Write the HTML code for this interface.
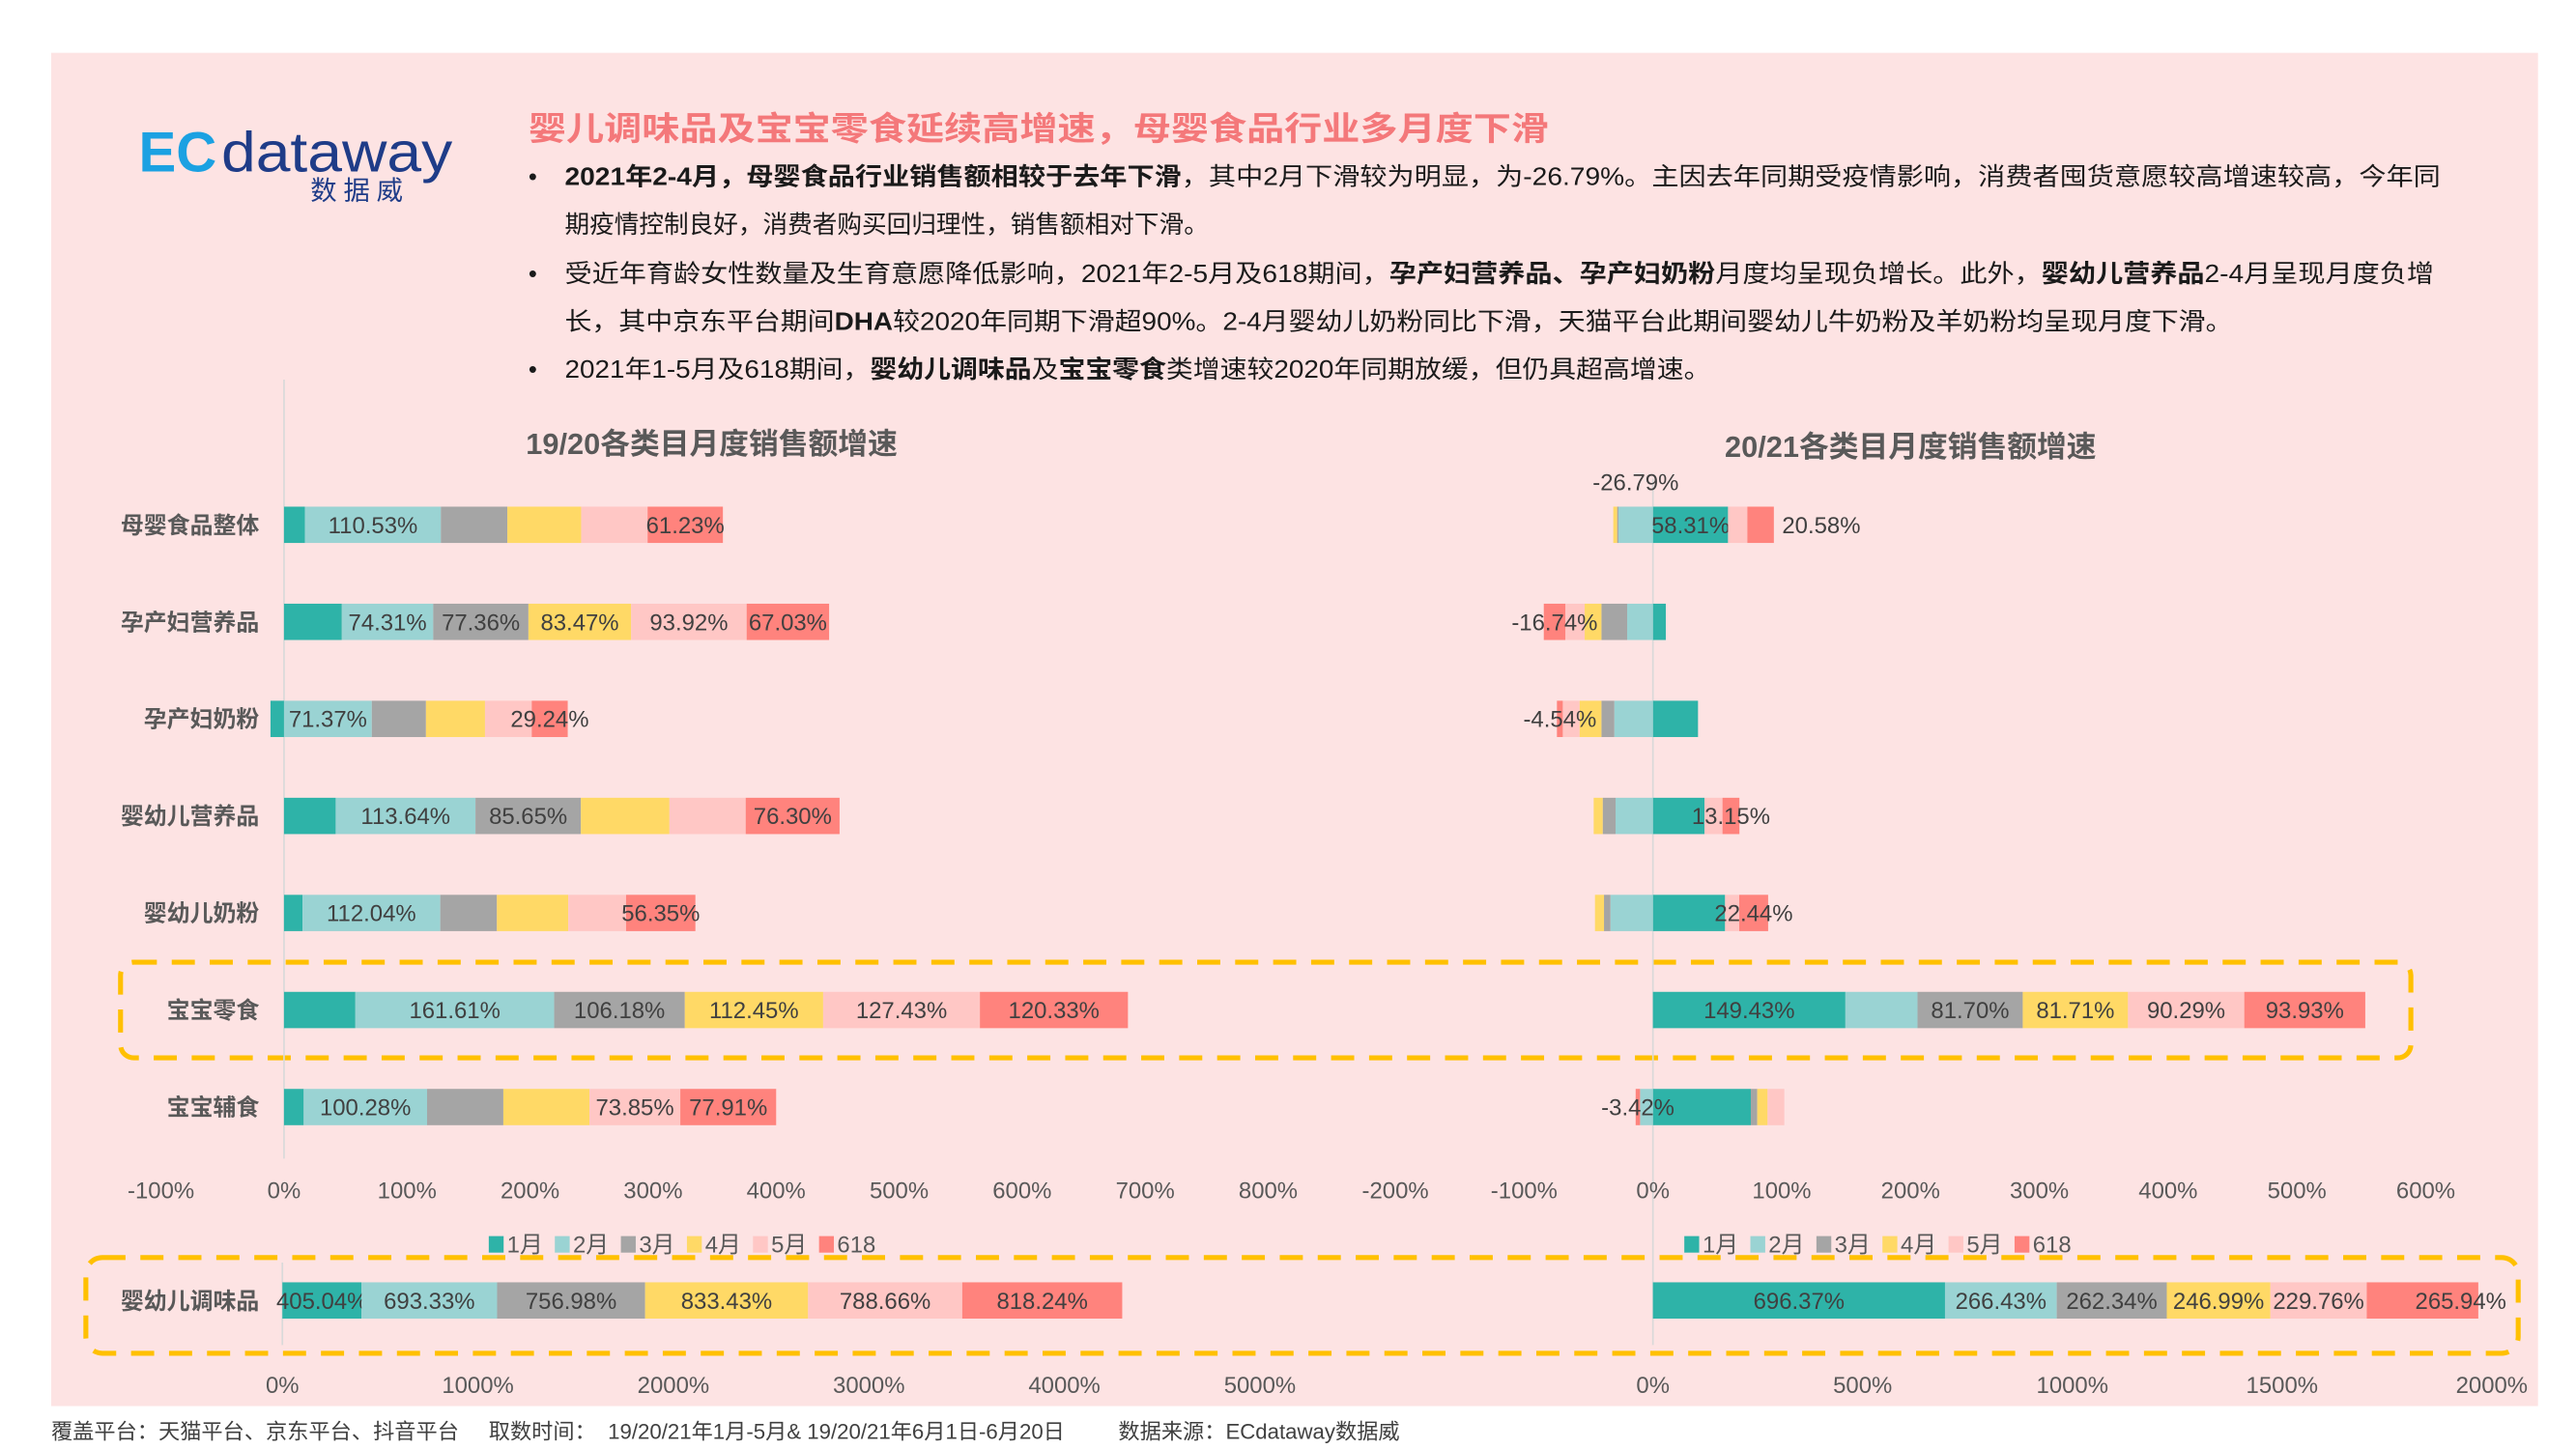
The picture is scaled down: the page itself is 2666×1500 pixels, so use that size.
<!DOCTYPE html>
<html><head><meta charset="utf-8">
<style>
html,body{margin:0;padding:0;background:#fff;}
svg{display:block;}
text{font-family:"Liberation Sans","Noto Sans CJK SC",sans-serif;}
</style></head>
<body>
<svg id="s" width="2666" height="1500" viewBox="0 0 1560 878" preserveAspectRatio="none" xmlns="http://www.w3.org/2000/svg">
<rect x="31" y="32" width="1506" height="820" fill="#fde3e3"/>
<g>
<text x="84" y="104" font-size="34" font-weight="bold" fill="#1ba1e2">EC</text>
<text x="134" y="104" font-size="34" fill="#1f3c88" textLength="140" lengthAdjust="spacingAndGlyphs">dataway</text>
<text x="188" y="121" font-size="16" fill="#1f3c88" letter-spacing="4">数据威</text>
</g>
<text x="320" y="85" font-size="20" font-weight="bold" fill="#f4787a" textLength="618" lengthAdjust="spacingAndGlyphs">婴儿调味品及宝宝零食延续高增速，母婴食品行业多月度下滑</text>
<g font-size="15" fill="#1a1a1a">
<text x="320" y="112">•</text><text x="320" y="171">•</text><text x="320" y="229">•</text>
<text x="342" y="112" textLength="1136" lengthAdjust="spacingAndGlyphs"><tspan font-weight="bold">2021年2-4月，母婴食品行业销售额相较于去年下滑</tspan>，其中2月下滑较为明显，为-26.79%。主因去年同期受疫情影响，消费者囤货意愿较高增速较高，今年同</text>
<text x="342" y="141">期疫情控制良好，消费者购买回归理性，销售额相对下滑。</text>
<text x="342" y="171" textLength="1132" lengthAdjust="spacingAndGlyphs">受近年育龄女性数量及生育意愿降低影响，2021年2-5月及618期间，<tspan font-weight="bold">孕产妇营养品、孕产妇奶粉</tspan>月度均呈现负增长。此外，<tspan font-weight="bold">婴幼儿营养品</tspan>2-4月呈现月度负增</text>
<text x="342" y="200" textLength="1010" lengthAdjust="spacingAndGlyphs">长，其中京东平台期间<tspan font-weight="bold">DHA</tspan>较2020年同期下滑超90%。2-4月婴幼儿奶粉同比下滑，天猫平台此期间婴幼儿牛奶粉及羊奶粉均呈现月度下滑。</text>
<text x="342" y="229" textLength="694" lengthAdjust="spacingAndGlyphs">2021年1-5月及618期间，<tspan font-weight="bold">婴幼儿调味品</tspan>及<tspan font-weight="bold">宝宝零食</tspan>类增速较2020年同期放缓，但仍具超高增速。</text>
</g>
<text x="431" y="275" font-size="18" font-weight="bold" fill="#595959" text-anchor="middle">19/20各类目月度销售额增速</text>
<text x="1157" y="277" font-size="18" font-weight="bold" fill="#595959" text-anchor="middle">20/21各类目月度销售额增速</text>
<rect x="73" y="583" width="1387" height="58" rx="8" fill="none" stroke="#ffc000" stroke-width="3" stroke-dasharray="14 9"/>
<rect x="52" y="762" width="1473" height="58" rx="10" fill="none" stroke="#ffc000" stroke-width="3" stroke-dasharray="14 9"/>
<g id="charts"></g>
<text x="31" y="872" font-size="13" fill="#404040" xml:space="preserve">覆盖平台：天猫平台、京东平台、抖音平台     取数时间：  19/20/21年1月-5月&amp; 19/20/21年6月1日-6月20日         数据来源：ECdataway数据威</text>
</svg>
<script>
const categories = ['母婴食品整体','孕产妇营养品','孕产妇奶粉','婴幼儿营养品','婴幼儿奶粉','宝宝零食','宝宝辅食'];
const seriesNames = ['1月','2月','3月','4月','5月','618'];
const seriesColors = ['#2eb3a8','#9ad3d3','#a5a5a5','#ffd966','#ffc7c5','#ff837d'];
const left1920 = [
 [17,110.53,54,60,54,61.23],
 [47,74.31,77.36,83.47,93.92,67.03],
 [-11,71.37,44,48,38,29.24],
 [42,113.64,85.65,72,62,76.30],
 [15,112.04,46,58,47,56.35],
 [58,161.61,106.18,112.45,127.43,120.33],
 [16,100.28,62,70,73.85,77.91]
];
const left1920Labels = [
 [null,'110.53%',null,null,null,'61.23%'],
 [null,'74.31%','77.36%','83.47%','93.92%','67.03%'],
 [null,'71.37%',null,null,null,'29.24%'],
 [null,'113.64%','85.65%',null,null,'76.30%'],
 [null,'112.04%',null,null,null,'56.35%'],
 [null,'161.61%','106.18%','112.45%','127.43%','120.33%'],
 [null,'100.28%',null,null,'73.85%','77.91%']
];
const right2021 = [
 [58.31,-26.79,-1,-3,15,20.58],
 [10,-20,-20,-13,-15,-16.74],
 [35,-30,-10,-17,-13,-4.54],
 [40,-29,-10,-7,14,13.15],
 [56,-33,-5,-7,11,22.44],
 [149.43,56,81.70,81.71,90.29,93.93],
 [76,-10,5,8,13,-3.42]
];
const right2021Labels = [
 ['58.31%','-26.79%',null,null,null,'20.58%'],
 [null,null,null,null,null,'-16.74%'],
 [null,null,null,null,null,'-4.54%'],
 [null,null,null,null,null,'13.15%'],
 [null,null,null,null,null,'22.44%'],
 ['149.43%',null,'81.70%','81.71%','90.29%','93.93%'],
 [null,null,null,null,null,'-3.42%']
];
const seasonCategory = '婴幼儿调味品';
const season1920 = [405.04,693.33,756.98,833.43,788.66,818.24];
const season2021 = [696.37,266.43,262.34,246.99,229.76,265.94];
const leftTicks = [-100,0,100,200,300,400,500,600,700,800];
const rightTicks = [-200,-100,0,100,200,300,400,500,600];
const seasonLeftTicks = [0,1000,2000,3000,4000,5000];
const seasonRightTicks = [0,500,1000,1500,2000];

const NS='http://www.w3.org/2000/svg';
const root=document.getElementById('charts');
function mk(tag,attrs,parent){const e=document.createElementNS(NS,tag);for(const k in attrs)e.setAttribute(k,attrs[k]);(parent||root).appendChild(e);return e;}
function txt(s,attrs,parent){const e=mk('text',attrs,parent);e.textContent=s;return e;}
const rowY = i => 318 + i*58.8;
const xL = v => 172 + v*0.745;
const xR = v => 1001 + v*0.78;
const xSL = v => 171 + v*0.1184;
const xSR = v => 1001 + v*0.254;
const BH=22;

function drawStack(vals,labels,xf,cy,g,special){
  let pos=0,neg=0;
  vals.forEach((v,j)=>{
    let a,b;
    if(v>=0){a=pos;b=pos+v;pos=b;}else{a=neg+v;b=neg;neg=a;}
    const x0=xf(a),x1=xf(b);
    const r=mk('rect',{x:x0,y:cy-BH/2,width:Math.max(0,x1-x0),height:BH,fill:seriesColors[j]},g);
    
    
    const lb=labels?labels[j]:null;
    if(lb){
      let lx=(x0+x1)/2,ly=cy+5,anchor='middle';
      if(special&&special[j]==='above'){ly=cy-21;}
      if(special&&special[j]==='right'){lx=x1+5;anchor='start';}
      if(special&&special[j]==='end'){lx=x1+17;anchor='end';}
      const t=txt(lb,{x:lx,y:ly,'font-size':14,fill:'#404040','text-anchor':anchor},g);
      
      
    }
  });
}
function axisLabels(ticks,xf,y,g,name){
  ticks.forEach(t=>{const e=txt(t+'%',{x:xf(t),y:y,'font-size':14,fill:'#595959','text-anchor':'middle'},g);
    
    });
}
function legend(x0,y,g){
  let x=x0;
  seriesNames.forEach((n,j)=>{
    const it=mk('g',{},g);
    
    
    mk('rect',{x:x,y:y-10,width:9,height:10,fill:seriesColors[j]},it);
    txt(n,{x:x+11,y:y,'font-size':14,fill:'#595959'},it);
    x+=40;
  });
}
const gL=mk('g',{});


mk('line',{x1:172,y1:230,x2:172,y2:702,stroke:'#d9d9d9','stroke-width':1},gL);
categories.forEach((c,i)=>{
  const t=txt(c,{x:157,y:rowY(i)+5,'font-size':14,'font-weight':'bold',fill:'#595959','text-anchor':'end'},gL);
  
  
  drawStack(left1920[i],left1920Labels[i],xL,rowY(i),gL,null);
});
axisLabels(leftTicks,xL,726,gL,'x-tick-label');
legend(296,759,gL);
const gR=mk('g',{});


mk('line',{x1:1001,y1:290,x2:1001,y2:815,stroke:'#d9d9d9','stroke-width':1},gR);
categories.forEach((c,i)=>{
  drawStack(right2021[i],right2021Labels[i],xR,rowY(i),gR,i===0?[null,'above',null,null,null,'right']:null);
});
axisLabels(rightTicks,xR,726,gR,'x-tick-label');
legend(1020,759,gR);
const gS=mk('g',{});


mk('line',{x1:171,y1:765,x2:171,y2:815,stroke:'#d9d9d9','stroke-width':1},gS);
const sc=txt(seasonCategory,{x:157,y:793,'font-size':14,'font-weight':'bold',fill:'#595959','text-anchor':'end'},gS);


drawStack(season1920,season1920.map(v=>v.toFixed(2)+'%'),xSL,788,gS,null);
drawStack(season2021,season2021.map(v=>v.toFixed(2)+'%'),xSR,788,gS,[null,null,null,null,null,'end']);
axisLabels(seasonLeftTicks,xSL,844,gS,'x-tick-label');
axisLabels(seasonRightTicks,xSR,844,gS,'x-tick-label');
</script>
</body></html>
